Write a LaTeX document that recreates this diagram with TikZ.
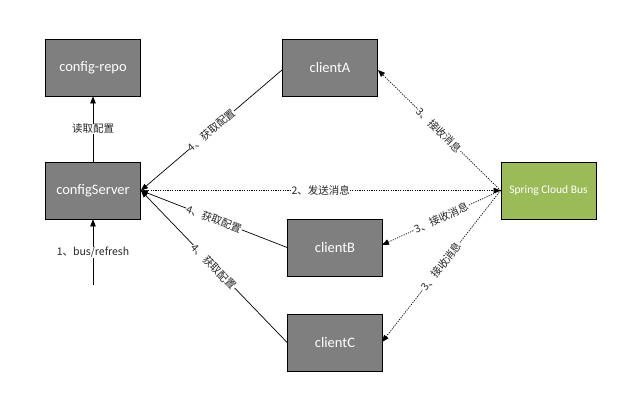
\documentclass[tikz,border=0pt]{standalone}
\usepackage{fontspec}
\setmainfont{Carlito}
\newfontfamily\cjk{Noto Sans CJK SC}
\usetikzlibrary{arrows.meta}
\definecolor{boxgray}{HTML}{7F7F7F}
\definecolor{busgreen}{HTML}{9BBB59}
\tikzset{
  box/.style={draw=black, line width=0.8pt, fill=boxgray, minimum width=95pt, minimum height=57pt, inner sep=0pt, text=white, font=\fontsize{14.5}{16}\selectfont},
  busbox/.style={box, fill=busgreen, font=\fontsize{11.5}{13}\selectfont},
  solidarrow/.style={draw=black, line width=0.7pt, -{Triangle[length=7pt,width=5.5pt]}},
  dotarrow/.style={draw=black, line width=0.7pt, dash pattern=on 1.2pt off 1.2pt, -{Triangle[length=7pt,width=5.5pt]}},
  lbl/.style={fill=white, inner sep=0.5pt, font=\cjk\fontsize{10.5}{12}\selectfont, text=black!85}
}
\begin{document}
\begin{tikzpicture}[x=1pt,y=-1pt]
\useasboundingbox[fill=white] (0,0) rectangle (632,401);
\node[box] (repo) at (93,67.5) {config-repo};
\node[box] (server) at (93,190.5) {configServer};
\node[box] (A) at (330,67.5) {clientA};
\node[box] (B) at (335,247.5) {clientB};
\node[box] (C) at (335,342.5) {clientC};
\node[busbox] (bus) at (548.5,190.5) {Spring Cloud Bus};
\coordinate (start) at (93,285);

\draw[solidarrow] (server.north) -- node[lbl] {读取配置} (repo.south);
\draw[solidarrow] (start) -- node[lbl] {1、bus/refresh} (server.south);

\draw[solidarrow] (282,70) -- node[lbl, sloped] {4、获取配置} (server.east);
\draw[solidarrow] (B.west) -- node[lbl, sloped] {4、获取配置} (server.east);
\draw[solidarrow] (C.west) -- node[lbl, sloped] {4、获取配置} (server.east);

\draw[dotarrow] (server.east) -- node[lbl] {2、发送消息} (bus.west);
\draw[dotarrow] (bus.west) -- node[lbl, sloped] {3、接收消息} (378,70);
\draw[dotarrow] (bus.west) -- node[lbl, sloped] {3、接收消息} (382,245);
\draw[dotarrow] (bus.west) -- node[lbl, sloped] {3、接收消息} (382,342);
\end{tikzpicture}
\end{document}
